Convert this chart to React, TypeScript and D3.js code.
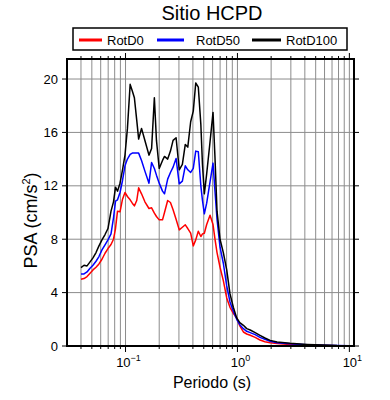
import React from "react"
import * as d3 from "d3"

// periods (s) and pseudo-acceleration (cm/s2)
const periods = [0.04, 0.0426, 0.0453, 0.0482, 0.0512, 0.0545, 0.0579, 0.0616, 0.0656, 0.0697,
    0.0742, 0.0781, 0.0814, 0.0848, 0.0893, 0.094, 0.0989, 0.104, 0.110, 0.115,
    0.120, 0.126, 0.131, 0.139, 0.149, 0.162, 0.171, 0.181, 0.189, 0.200,
    0.214, 0.223, 0.238, 0.252, 0.266, 0.283, 0.302, 0.322, 0.342, 0.360,
    0.382, 0.403, 0.424, 0.447, 0.471, 0.487, 0.506, 0.531, 0.569, 0.605,
    0.630, 0.657, 0.699, 0.748, 0.802, 0.858, 0.919, 0.985, 1.05, 1.13,
    1.21, 1.30, 1.44, 1.59, 1.76, 1.96, 2.26, 2.95, 4.19, 5.82, 7.76, 10.0]

const rotD100 = [5.87, 6.05, 6.0, 6.3, 6.6, 7.0, 7.5, 7.95, 8.35, 8.8,
    10.1, 10.8, 11.9, 11.6, 12.2, 13.2, 14.3, 16.3, 19.6, 19.1,
    18.6, 16.9, 15.5, 16.3, 15.4, 14.3, 14.8, 18.6, 15.4, 13.3,
    13.9, 14.2, 14.0, 14.6, 15.4, 15.6, 13.2, 13.6, 15.1, 14.9,
    16.8, 17.6, 19.7, 19.4, 16.6, 13.6, 11.4, 12.9, 15.3, 17.5,
    14.1, 10.1, 8.0, 7.0, 5.7, 3.9, 2.9, 2.1, 1.75, 1.55,
    1.3, 1.2, 1.0, 0.8, 0.6, 0.42, 0.3, 0.2, 0.12, 0.07, 0.03, 0.02]

const rotD50 = [5.4, 5.4, 5.55, 5.83, 6.05, 6.35, 6.7, 7.2, 7.58, 7.95,
    8.4, 9.6, 10.85, 10.95, 11.5, 12.4, 13.5, 14.0, 14.35, 14.45,
    14.45, 14.45, 14.45, 13.9, 13.1, 12.2, 13.75, 13.3, 12.8, 12.2,
    11.6, 11.4, 12.5, 13.0, 13.4, 14.05, 12.15, 12.35, 13.5, 13.2,
    13.0, 13.3, 14.6, 14.55, 12.0, 10.9, 9.9, 10.7, 12.3, 13.7,
    11.6, 9.5, 7.4, 6.2, 4.5, 3.3, 2.6, 2.0, 1.6, 1.3,
    1.1, 1.0, 0.85, 0.65, 0.5, 0.36, 0.25, 0.16, 0.1, 0.06, 0.03, 0.02]

const rotD0 = [5.0, 5.05, 5.2, 5.45, 5.7, 5.9, 6.15, 6.5, 6.95, 7.3,
    7.6, 8.0, 8.8, 10.1, 10.05, 11.0, 11.5, 11.2, 10.95, 10.7,
    10.5, 10.9, 11.85, 11.4, 10.8, 10.3, 10.35, 9.95, 9.7, 9.45,
    9.45, 10.0, 10.9, 10.75, 10.2, 9.5, 8.7, 8.9, 9.08, 8.8,
    8.45, 7.5, 7.95, 8.6, 8.2, 8.4, 8.45, 9.1, 9.8, 9.1,
    8.0, 7.0, 5.9, 4.9, 3.6, 2.9, 2.45, 2.1, 1.5, 1.05,
    0.9, 0.8, 0.65, 0.45, 0.32, 0.24, 0.18, 0.12, 0.07, 0.04, 0.02, 0.01]

const seriesNames = ["RotD0", "RotD50", "RotD100"]
const seriesColors = ["#ff0000", "#0000ff", "#000000"]
const yTicks = [0, 4, 8, 12, 16, 20]
const xMajor = [0.1, 1, 10]
const xMajorExp = ["\u22121", "0", "1"]

const W = 390, H = 400
const margin = {top: 59, right: 36, bottom: 54, left: 67}
const font = "Liberation Sans, Arial, Helvetica, sans-serif"

const App = () => {
    const x = d3.scaleLog().domain([0.03, 11]).range([margin.left, W - margin.right])
    const y = d3.scaleLinear().domain([0, 21.5]).range([H - margin.bottom, margin.top])
    const [x0, x1] = x.range()
    const [yb, yt] = y.range()

    const minor = x.ticks().filter(t => t > 0.031 && t < 10.9)
    const line = d3.line<number>()
        .x((_, i) => x(periods[i]))
        .y(d => y(d))

    const data = [rotD0, rotD50, rotD100]

    // legend layout
    const legendItems = [
        {x1: 79, x2: 102, tx: 107},
        {x1: 157, x2: 184, tx: 196},
        {x1: 252, x2: 281, tx: 286},
    ]

    return (
        <svg width={W} height={H} style={{position: "absolute", left: 0, top: 0}} fontFamily={font}>
            <rect width={W} height={H} fill="white"/>
            <text x={212} y={20} fontSize={20} textAnchor="middle">Sitio HCPD</text>

            {/* grid */}
            {minor.map((t, i) => (
                <line key={"gx" + i} x1={x(t)} x2={x(t)} y1={yt} y2={yb} stroke="#8c8c8c" strokeWidth={1}/>
            ))}
            {yTicks.filter(t => t > 0).map(t => (
                <line key={"gy" + t} x1={x0} x2={x1} y1={y(t)} y2={y(t)} stroke="#8c8c8c" strokeWidth={1}/>
            ))}

            {/* curves */}
            {data.map((d, i) => (
                <path key={"s" + i} d={line(d) || ""} fill="none" stroke={seriesColors[i]} strokeWidth={1.5}
                      strokeLinejoin="round"/>
            ))}

            {/* ticks */}
            {minor.map((t, i) => {
                const major = xMajor.some(m => Math.abs(m - t) < 1e-9)
                const len = major ? 6 : 3
                return (
                    <g key={"tx" + i}>
                        <line x1={x(t)} x2={x(t)} y1={yb} y2={yb + len} stroke="black"/>
                        <line x1={x(t)} x2={x(t)} y1={yt} y2={yt - len} stroke="black"/>
                    </g>
                )
            })}
            {yTicks.map(t => (
                <g key={"ty" + t}>
                    <line x1={x0 - 5} x2={x0} y1={y(t)} y2={y(t)} stroke="black"/>
                    <line x1={x1} x2={x1 + 5} y1={y(t)} y2={y(t)} stroke="black"/>
                    <text x={x0 - 9} y={y(t)} dy="0.35em" fontSize={13} textAnchor="end">{t}</text>
                </g>
            ))}
            {xMajor.map((t, i) => (
                <text key={"lx" + i} x={x(t) + 3} y={yb + 21} fontSize={13} textAnchor="middle">
                    10<tspan dy={-6} fontSize={9}>{xMajorExp[i]}</tspan>
                </text>
            ))}

            {/* frame */}
            <rect x={x0} y={yt} width={x1 - x0} height={yb - yt} fill="none" stroke="black" strokeWidth={2}/>

            {/* axis titles */}
            <text x={212} y={388} fontSize={16} textAnchor="middle">Periodo (s)</text>
            <text transform={`translate(37,${(yt + yb) / 2 + 18}) rotate(-90)`} fontSize={18} textAnchor="middle">
                PSA (cm/s<tspan dy={-7} fontSize={11}>2</tspan><tspan dy={7}>)</tspan>
            </text>

            {/* legend */}
            <rect x={73} y={28} width={274} height={22} fill="white" stroke="black" strokeWidth={1.5}/>
            {legendItems.map((it, i) => (
                <g key={"lg" + i}>
                    <line x1={it.x1} x2={it.x2} y1={40} y2={40} stroke={seriesColors[i]} strokeWidth={3}/>
                    <text x={it.tx} y={44.5} fontSize={13}>{seriesNames[i]}</text>
                </g>
            ))}
        </svg>
    )
}

export default App
